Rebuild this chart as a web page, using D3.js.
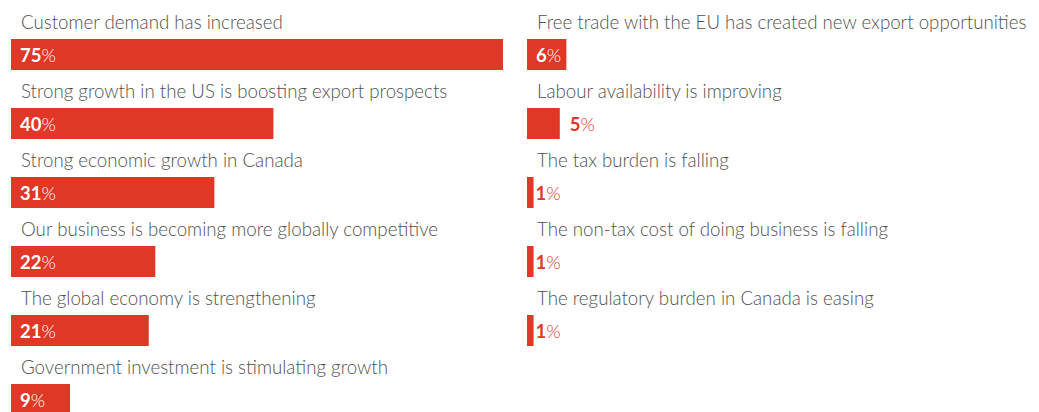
<!DOCTYPE html>
<html>
<head>
<meta charset="utf-8">
<script src="https://cdn.jsdelivr.net/npm/d3@7"></script>
<style>
  html, body { margin: 0; padding: 0; background: #fff; }
  svg { display: block; }
</style>
</head>
<body>
<svg id="chart" width="1039" height="412"></svg>
<script>
// Reasons for optimism — share of respondents (%)
const leftCategories = [
  "Customer demand has increased",
  "Strong growth in the US is boosting export prospects",
  "Strong economic growth in Canada",
  "Our business is becoming more globally competitive",
  "The global economy is strengthening",
  "Government investment is stimulating growth"
];
const leftValues = [75, 40, 31, 22, 21, 9];

const rightCategories = [
  "Free trade with the EU has created new export opportunities",
  "Labour availability is improving",
  "The tax burden is falling",
  "The non-tax cost of doing business is falling",
  "The regulatory burden in Canada is easing"
];
const rightValues = [6, 5, 1, 1, 1];

const RED = "#E03726";
const GREY = "#505050";
const FONT = "'Lato Light', Lato, 'Open Sans', sans-serif";

const svg = d3.select("#chart");

// shared value scale: percentage -> bar length
const x = d3.scaleLinear().domain([0, 75]).range([0, 492]);

// row positions
const rowStep = 69;
const y = i => i * rowStep;

function column(g, cats, vals) {
  const rows = g.selectAll("g.row")
    .data(cats.map((c, i) => ({ c, v: vals[i], i })))
    .join("g")
    .attr("class", "row")
    .attr("transform", d => `translate(0,${y(d.i)})`);

  rows.append("text")
    .attr("x", 10)
    .attr("y", 29)
    .attr("fill", GREY)
    .style("font-family", FONT)
    .style("font-weight", 300)
    .style("font-size", "18.7px")
    .text(d => d.c);

  rows.append("rect")
    .attr("x", 0)
    .attr("y", 39)
    .attr("width", d => x(d.v))
    .attr("height", 31)
    .attr("fill", RED);

  const lbl = rows.append("text")
    .attr("y", 62)
    .style("font-family", "Lato, sans-serif")
    .style("font-size", "18.5px")
    .attr("x", d => d.v >= 6 ? 9 : (d.v >= 2 ? x(d.v) + 10 : x(d.v) + 2))
    .attr("fill", d => d.v >= 6 ? "#fff" : RED);

  lbl.append("tspan")
    .style("font-weight", 700)
    .text(d => d.v);
  lbl.append("tspan")
    .style("font-family", FONT)
    .style("font-weight", 300)
    .text("%");
}

column(svg.append("g").attr("transform", "translate(11,0)"), leftCategories, leftValues);
column(svg.append("g").attr("transform", "translate(527,0)"), rightCategories, rightValues);
</script>
</body>
</html>
